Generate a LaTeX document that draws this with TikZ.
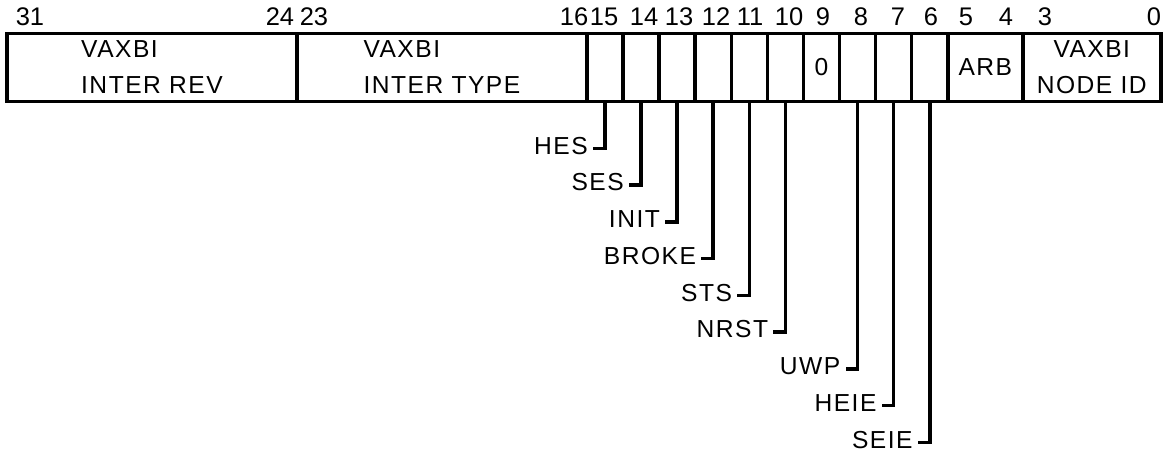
\documentclass[tikz,border=0pt]{standalone}
\usepackage{fontspec}
\setmainfont{Liberation Sans}
\newfontfamily\tagfont{Liberation Sans}[LetterSpace=6]
\usetikzlibrary{positioning,calc}

\begin{document}
\begin{tikzpicture}[x=0.02cm,y=-0.02cm,line width=2pt,
  field/.style={draw,outer sep=0pt,inner sep=0pt,minimum height=1.36cm,font=\tagfont\fontsize{14}{20.5}\selectfont},
  bit/.style={field,minimum width=0.722cm},
  tag/.style={anchor=east,inner sep=2pt,text depth=3.4pt,font=\tagfont\fontsize{14}{17}\selectfont},
  num/.style={inner sep=0pt,font=\fontsize{14.5}{17}\selectfont}]
\useasboundingbox (0,0) rectangle (1167,452);
% register fields, left to right
\node[field,minimum width=5.8cm,align=left,anchor=west] (rev) at (7,67.5) {VAXBI\\INTER REV};
\node[field,minimum width=5.8cm,align=left,right=0pt of rev] (type) {VAXBI\\INTER TYPE};
\foreach \n/\t [remember=\n as \p (initially type)] in {b15/{},b14/{},b13/{},b12/{},b11/{},b10/{},b9/0,b8/{},b7/{},b6/{}}
  \node[bit,right=0pt of \p] (\n) {\t};
\node[bit,minimum width=1.5cm,right=0pt of b6] (arb) {ARB};
\node[bit,minimum width=2.76cm,align=center,right=0pt of arb] (nid) {VAXBI\\NODE ID};
% bit numbers
\foreach \v/\x in {31/30,24/280,23/314,16/574,15/604,14/644,13/679,12/716,11/750,10/789,9/823,8/861,7/898,6/931,5/966,4/1006,3/1045,0/1154}
  \node[num] (n\v) at (\x,16.5) {\v};
% flag bits
\foreach \b/\t/\k in {b15/HES/0,b14/SES/1,b13/INIT/2,b12/BROKE/3,b11/STS/4,b10/NRST/5,b8/UWP/6,b7/HEIE/7,b6/SEIE/8}{
  \node[tag] (\t) at ($(\b.south)+(-12,47+36.75*\k)$) {\t};
  \draw (\b.south) |- (\t.east);
}
\end{tikzpicture}
\end{document}
